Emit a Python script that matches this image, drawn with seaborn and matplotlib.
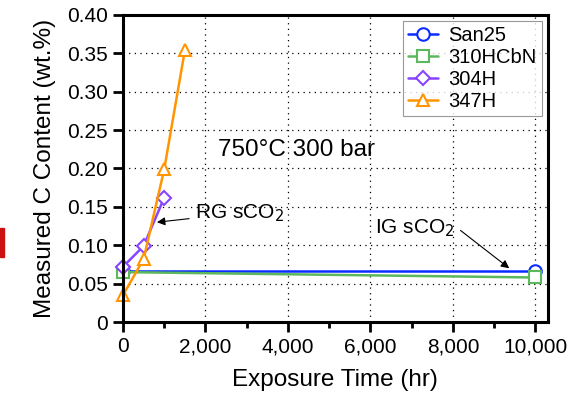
import numpy as np
import pandas as pd
import matplotlib
matplotlib.use("Agg")
import matplotlib.pyplot as plt
import matplotlib.ticker as mticker
from matplotlib.patches import Rectangle
import seaborn as sns

# data
san25_time = [0, 10000]
san25_c = [0.067, 0.067]

hcbn_time = [0, 10000]
hcbn_c = [0.065, 0.058]

h304_time = [0, 500, 1000]
h304_c = [0.072, 0.099, 0.162]

h347_time = [0, 500, 1000, 1500]
h347_c = [0.035, 0.082, 0.199, 0.354]

series_names = ["San25", "310HCbN", "304H", "347H"]
series_colors = ["#0a2cff", "#5cb85c", "#8844ff", "#ff9500"]
series_markers = ["o", "s", "D", "^"]

sns.set_style("ticks")
plt.rcParams["font.family"] = ["Liberation Sans", "DejaVu Sans"]
plt.rcParams["text.color"] = "black"
plt.rcParams["axes.labelcolor"] = "black"
plt.rcParams["xtick.color"] = "black"
plt.rcParams["ytick.color"] = "black"
plt.rcParams["axes.edgecolor"] = "black"

fig = plt.figure(figsize=(5.84, 3.94), dpi=100)
ax = fig.add_axes([0.2106, 0.1827, 0.7274, 0.7793])

all_data = [
    (san25_time, san25_c),
    (hcbn_time, hcbn_c),
    (h304_time, h304_c),
    (h347_time, h347_c),
]

for (t, c), name, col, mk in zip(all_data, series_names, series_colors, series_markers):
    msize = 9 if mk != "D" else 7.5
    sns.lineplot(x=t, y=c, ax=ax, color=col, marker=mk, label=name,
                 linewidth=1.8, markersize=msize, markerfacecolor="white",
                 markeredgecolor=col, markeredgewidth=1.5, sort=False,
                 clip_on=False)

ax.set_xlim(0, 10300)
ax.set_ylim(0, 0.40)
ax.xaxis.set_major_locator(mticker.MultipleLocator(2000))
ax.xaxis.set_minor_locator(mticker.MultipleLocator(1000))
ax.yaxis.set_major_locator(mticker.MultipleLocator(0.05))
ax.xaxis.set_major_formatter(mticker.FuncFormatter(lambda v, p: f"{int(v):,}"))
ax.yaxis.set_major_formatter(mticker.FuncFormatter(lambda v, p: "0" if abs(v) < 1e-9 else f"{v:.2f}"))

# gridlines
ax.grid(True, which="major", linestyle=(0, (1, 3.5)), color="black", linewidth=0.9)
ax.set_axisbelow(True)

for s in ax.spines.values():
    s.set_linewidth(2.2)
    s.set_color("black")
ax.tick_params(which="major", direction="out", length=7, width=2, labelsize=15, pad=4)
ax.tick_params(which="minor", direction="out", length=4, width=2)

ax.set_xlabel("Exposure Time (hr)", fontsize=17.5, labelpad=9)
ax.set_ylabel("Measured C Content (wt.%)", fontsize=17.5, labelpad=8)

# annotations
ax.text(2300, 0.224, "750°C 300 bar", fontsize=17.5, va="center", ha="left")
ax.annotate("RG sCO$_2$", xy=(823, 0.130), xytext=(1750, 0.142),
            fontsize=15, va="center", ha="left",
            arrowprops=dict(arrowstyle="-|>", color="black", lw=0.8,
                            shrinkA=2, shrinkB=0, mutation_scale=12))
ax.annotate("IG sCO$_2$", xy=(9365, 0.070), xytext=(6120, 0.122),
            fontsize=15, va="center", ha="left",
            arrowprops=dict(arrowstyle="-|>", color="black", lw=0.8,
                            shrinkA=2, shrinkB=0, mutation_scale=12,
                            relpos=(1.0, 0.6)))

leg = ax.legend(loc="upper right", fontsize=14.5, frameon=True, fancybox=False,
                edgecolor="gray", handlelength=1.5, handletextpad=0.5,
                borderpad=0.25, labelspacing=0.15, borderaxespad=0.3)
leg.get_frame().set_linewidth(0.8)

# red mark at the left edge of the picture
fig.patches.append(Rectangle((0, 1 - 257 / 394), 4 / 584, 29 / 394,
                             transform=fig.transFigure, color="#cc1111"))

fig.savefig("out.png", dpi=100)
